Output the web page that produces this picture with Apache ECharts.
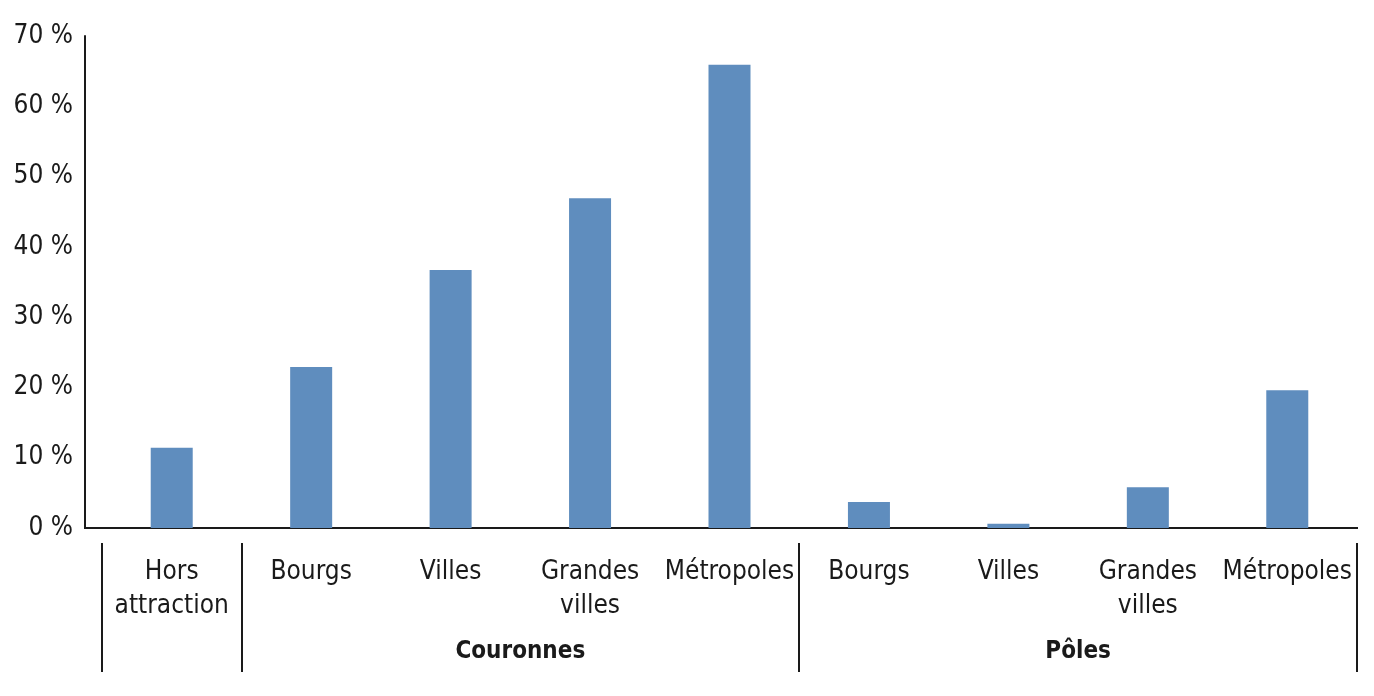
<!DOCTYPE html>
<html>
<head>
<meta charset="utf-8">
<script src="https://cdn.jsdelivr.net/npm/echarts@6/dist/echarts.min.js"></script>
<style>
  html, body { margin: 0; padding: 0; background: #fff; }
  #chart { width: 1374px; height: 696px; }
</style>
</head>
<body>
<div id="chart"></div>
<script>
var categories = ['Hors\nattraction', 'Bourgs', 'Villes', 'Grandes\nvilles', 'Métropoles',
                  'Bourgs', 'Villes', 'Grandes\nvilles', 'Métropoles'];
var values = [11.4, 22.9, 36.7, 46.9, 65.9, 3.7, 0.6, 5.8, 19.6];
var groupNames = ['Couronnes', 'Pôles'];
// group borders, in category units: Hors | Couronnes (1-5) | Pôles (5-9)
var groupBounds = [0, 1, 5, 9];
var yTicks = [0, 10, 20, 30, 40, 50, 60, 70];

var font = '"DejaVu Sans Condensed", "Liberation Sans Narrow", sans-serif';
var ink = '#1a1a1a';

// half-step points for the group axis (0, 0.5, ... 9)
var halfSteps = [];
for (var i = 0; i <= 18; i++) halfSteps.push('');
halfSteps[(groupBounds[1] + groupBounds[2])] = groupNames[0];
halfSteps[(groupBounds[2] + groupBounds[3])] = groupNames[1];
var sepIdx = groupBounds.map(function (b) { return b * 2; });

var myChart = echarts.init(document.getElementById('chart'));
var option = {
    animation: false,
    grid: { left: 102, right: 17, top: 36, bottom: 168 },
    yAxis: {
        type: 'value',
        min: yTicks[0],
        max: yTicks[yTicks.length - 1],
        interval: 10,
        offset: 17,
        axisLine: { show: true, lineStyle: { color: ink, width: 2 } },
        axisTick: { show: false },
        splitLine: { show: false },
        axisLabel: {
            formatter: '{value} %',
            fontFamily: font, fontSize: 26, color: ink, margin: 12
        }
    },
    xAxis: [
        {
            type: 'category',
            data: categories,
            axisLine: { show: false },
            axisTick: { show: false },
            axisLabel: {
                interval: 0, fontFamily: font, fontSize: 26, color: ink,
                lineHeight: 34, margin: 27
            }
        },
        {
            type: 'category',
            data: halfSteps,
            boundaryGap: false,
            position: 'bottom',
            offset: 15,
            axisLine: { show: false },
            axisTick: {
                show: true, length: 129,
                interval: function (idx) { return sepIdx.indexOf(idx) >= 0; },
                lineStyle: { color: ink, width: 2 }
            },
            axisLabel: {
                interval: 0, fontFamily: font, fontSize: 24, fontWeight: 'bold',
                color: ink, margin: 97
            }
        }
    ],
    series: [
        {
            type: 'bar',
            xAxisIndex: 0,
            data: values,
            barWidth: 42,
            itemStyle: { color: '#5f8dbe' }
        }
    ]
};
myChart.setOption(option);

// horizontal base line runs from the y axis line to the right end
var y0 = myChart.convertToPixel({ yAxisIndex: 0 }, 0);
myChart.setOption({
    graphic: [{
        type: 'line',
        shape: { x1: 84, y1: y0, x2: 1358, y2: y0 },
        style: { stroke: ink, lineWidth: 2 }
    }]
});
</script>
</body>
</html>
